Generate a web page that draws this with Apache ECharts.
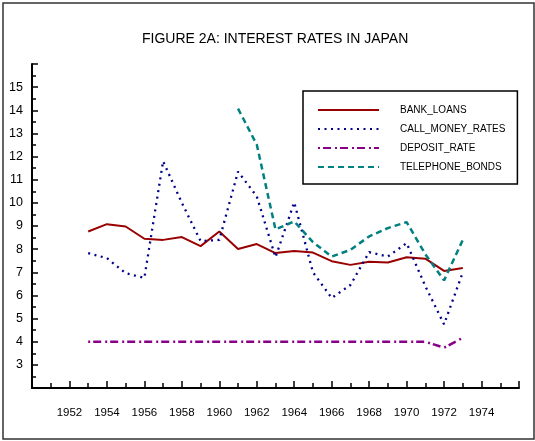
<!DOCTYPE html>
<html>
<head>
<meta charset="utf-8">
<title>Figure 2A</title>
<script src="https://cdn.jsdelivr.net/npm/echarts@6/dist/echarts.min.js"></script>
<style>
html, body { margin: 0; padding: 0; background: #fff; }
#chart { width: 535px; height: 441px; }
</style>
</head>
<body>
<div id="chart"></div>
<script type="text/javascript">
// values, one per year 1953..1973
var years = [1953, 1954, 1955, 1956, 1957, 1958, 1959, 1960, 1961, 1962, 1963,
             1964, 1965, 1966, 1967, 1968, 1969, 1970, 1971, 1972, 1973];
var bankLoans = [8.76, 9.08, 8.98, 8.45, 8.40, 8.52, 8.13, 8.76, 8.01, 8.22, 7.83,
                 7.92, 7.85, 7.48, 7.32, 7.46, 7.42, 7.65, 7.59, 7.06, 7.19];
var callMoney = [7.83, 7.61, 6.96, 6.76, 11.80, 10.0, 8.35, 8.40, 11.35, 10.28, 7.65,
                 10.02, 7.0, 5.89, 6.45, 7.87, 7.68, 8.26, 6.40, 4.75, 7.0];
var depositRate = [4, 4, 4, 4, 4, 4, 4, 4, 4, 4, 4,
                   4, 4, 4, 4, 4, 4, 4, 4, 3.74, 4.17];
var telephoneBonds = [null, null, null, null, null, null, null, null, 14.07, 12.52, 8.85,
                      9.2, 8.3, 7.68, 7.97, 8.55, 8.91, 9.17, 7.78, 6.65, 8.40];
var seriesNames = ['BANK_LOANS', 'CALL_MONEY_RATES', 'DEPOSIT_RATE', 'TELEPHONE_BONDS'];

var font = "'Liberation Sans', Arial, sans-serif";

function pairs(vals) {
    var out = [];
    for (var i = 0; i < years.length; i++) {
        if (vals[i] !== null) out.push([years[i], vals[i]]);
    }
    return out;
}

var myChart = echarts.init(document.getElementById('chart'));
var option = {
    animation: false,
    backgroundColor: '#fff',
    title: {
        text: 'FIGURE 2A: INTEREST RATES IN JAPAN',
        left: 142,
        top: 32,
        padding: 0,
        textStyle: { fontFamily: font, fontSize: 14, fontWeight: 'normal', color: '#000' }
    },
    graphic: [{
        type: 'rect',
        shape: { x: 3, y: 3, width: 531, height: 436 },
        style: { fill: 'none', stroke: '#333', lineWidth: 1.5 },
        z: -1
    }],
    legend: {
        orient: 'vertical',
        left: 303,
        top: 91,
        data: seriesNames,
        itemWidth: 61,
        itemHeight: 10,
        itemGap: 9,
        padding: [14, 12, 12, 14],
        borderColor: '#000',
        borderWidth: 1.5,
        backgroundColor: '#fff',
        itemStyle: { opacity: 0 },
        textStyle: { fontFamily: font, fontSize: 10, color: '#000', lineHeight: 10, padding: [0, 0, 0, 16] }
    },
    grid: { left: 32, right: 16, top: 64, bottom: 53 },
    xAxis: {
        type: 'value',
        min: 1950,
        max: 1976,
        interval: 2,
        splitLine: { show: false },
        axisLine: { lineStyle: { color: '#000', width: 2 } },
        axisTick: { inside: true, length: 7, lineStyle: { color: '#000', width: 1.5 } },
        minorTick: { show: true, splitNumber: 2, length: 5, lineStyle: { color: '#000', width: 1.5 } },
        axisLabel: {
            margin: 19,
            fontFamily: font,
            fontSize: 11.5,
            color: '#000',
            formatter: function (v) { return (v === 1950 || v === 1976) ? '' : String(v); }
        }
    },
    yAxis: {
        type: 'value',
        min: 2,
        max: 16,
        interval: 1,
        splitLine: { show: false },
        axisLine: { show: true, lineStyle: { color: '#000', width: 2 } },
        axisTick: { show: true, inside: true, length: 6, lineStyle: { color: '#000', width: 1.5 } },
        minorTick: { show: true, splitNumber: 2, length: 4, lineStyle: { color: '#000', width: 1.5 } },
        axisLabel: {
            margin: 9,
            fontFamily: font,
            fontSize: 12.5,
            color: '#000',
            formatter: function (v) { return (v === 2 || v === 16) ? '' : String(v); }
        }
    },
    series: [
        {
            name: 'BANK_LOANS',
            type: 'line',
            symbol: 'none',
            data: pairs(bankLoans),
            color: '#990000',
            lineStyle: { color: '#990000', width: 2 }
        },
        {
            name: 'CALL_MONEY_RATES',
            type: 'line',
            symbol: 'none',
            data: pairs(callMoney),
            color: '#000088',
            lineStyle: { color: '#000088', width: 2.3, type: [2, 4.5] }
        },
        {
            name: 'DEPOSIT_RATE',
            type: 'line',
            symbol: 'none',
            data: pairs(depositRate),
            color: '#880088',
            lineStyle: { color: '#880088', width: 2.5, type: [2, 3, 8, 4] }
        },
        {
            name: 'TELEPHONE_BONDS',
            type: 'line',
            symbol: 'none',
            data: pairs(telephoneBonds),
            color: '#008080',
            lineStyle: { color: '#008080', width: 2.5, type: [6, 4] }
        }
    ]
};
myChart.setOption(option);
</script>
</body>
</html>
